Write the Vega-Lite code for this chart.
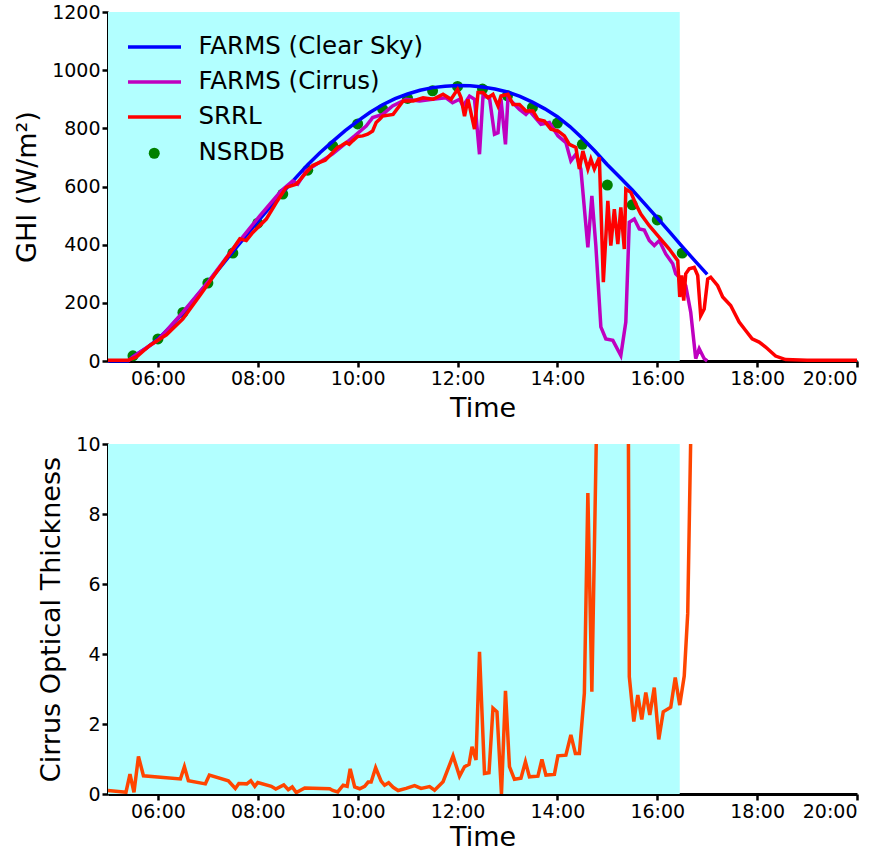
{
  "$schema": "https://vega.github.io/schema/vega-lite/v6.json",
  "padding": {"left": 13, "top": 3, "right": 5, "bottom": 0},
  "config": {
    "font": "DejaVu Sans",
    "view": {"stroke": null},
    "axis": {"grid": false, "domainColor": "black", "domainWidth": 3, "tickColor": "black", "tickWidth": 2.5, "tickSize": 6, "labelFontSize": 19, "titleFontSize": 27, "titleFontWeight": "normal", "labelColor": "black", "titleColor": "black", "labelPadding": 2, "labelFont": "DejaVu Sans", "titleFont": "DejaVu Sans"}
  },
  "datasets": {
    "bg": [{"a": 5, "b": 16.45}],
    "clear": [
      {"t":5.0,"v":0},{"t":5.4,"v":0},{"t":5.5,"v":15},{"t":5.75,"v":42},{"t":6.0,"v":75},{"t":6.25,"v":118},{"t":6.5,"v":165},{"t":6.75,"v":217},{"t":7.0,"v":270},{"t":7.25,"v":323},{"t":7.5,"v":376},{"t":7.75,"v":428},{"t":8.0,"v":480},{"t":8.25,"v":530},{"t":8.5,"v":580},{"t":8.75,"v":628},{"t":9.0,"v":675},{"t":9.25,"v":717},{"t":9.5,"v":755},{"t":9.75,"v":792},{"t":10.0,"v":825},{"t":10.25,"v":855},{"t":10.5,"v":881},{"t":10.75,"v":902},{"t":11.0,"v":918},{"t":11.25,"v":931},{"t":11.5,"v":940},{"t":11.75,"v":945},{"t":12.0,"v":947},{"t":12.25,"v":946},{"t":12.5,"v":942},{"t":12.75,"v":935},{"t":13.0,"v":925},{"t":13.25,"v":910},{"t":13.5,"v":890},{"t":13.75,"v":867},{"t":14.0,"v":840},{"t":14.25,"v":806},{"t":14.5,"v":766},{"t":14.75,"v":722},{"t":15.0,"v":675},{"t":15.25,"v":632},{"t":15.5,"v":588},{"t":15.75,"v":540},{"t":16.0,"v":492},{"t":16.25,"v":443},{"t":16.5,"v":393},{"t":16.75,"v":345},{"t":17.0,"v":298}
    ],
    "cirrus": [
      {"t":5.4,"v":0},{"t":5.5,"v":14},{"t":6.0,"v":72},{"t":6.5,"v":168},{"t":7.0,"v":271},{"t":7.5,"v":385},{"t":8.04,"v":499},{"t":8.47,"v":585},{"t":8.7,"v":619},{"t":8.8,"v":608},{"t":8.97,"v":654},{"t":9.5,"v":712},{"t":9.94,"v":774},{"t":10.17,"v":808},{"t":10.3,"v":837},{"t":10.5,"v":848},{"t":10.7,"v":877},{"t":10.97,"v":900},{"t":11.24,"v":894},{"t":11.5,"v":900},{"t":11.77,"v":905},{"t":11.9,"v":888},{"t":12.04,"v":900},{"t":12.11,"v":877},{"t":12.24,"v":911},{"t":12.34,"v":900},{"t":12.44,"v":711},{"t":12.51,"v":911},{"t":12.64,"v":905},{"t":12.74,"v":780},{"t":12.81,"v":785},{"t":12.87,"v":900},{"t":12.96,"v":745},{"t":13.01,"v":905},{"t":13.24,"v":865},{"t":13.37,"v":848},{"t":13.44,"v":860},{"t":13.67,"v":814},{"t":13.84,"v":820},{"t":14.01,"v":774},{"t":14.17,"v":751},{"t":14.27,"v":688},{"t":14.37,"v":711},{"t":14.47,"v":660},{"t":14.61,"v":391},{"t":14.69,"v":568},{"t":14.77,"v":397},{"t":14.87,"v":117},{"t":14.97,"v":76},{"t":15.11,"v":71},{"t":15.27,"v":19},{"t":15.37,"v":134},{"t":15.44,"v":477},{"t":15.54,"v":488},{"t":15.64,"v":454},{"t":15.74,"v":450},{"t":15.84,"v":414},{"t":15.94,"v":397},{"t":16.04,"v":414},{"t":16.17,"v":368},{"t":16.31,"v":334},{"t":16.37,"v":300},{"t":16.51,"v":276},{"t":16.57,"v":259},{"t":16.67,"v":168},{"t":16.77,"v":8},{"t":16.84,"v":42},{"t":16.94,"v":8},{"t":17.0,"v":0}
    ],
    "srrl": [
      {"t":5.0,"v":3},{"t":5.4,"v":3},{"t":5.57,"v":14},{"t":5.84,"v":54},{"t":6.17,"v":90},{"t":6.5,"v":145},{"t":6.84,"v":225},{"t":7.17,"v":305},{"t":7.5,"v":385},{"t":7.64,"v":420},{"t":7.77,"v":414},{"t":7.9,"v":442},{"t":8.17,"v":488},{"t":8.37,"v":545},{"t":8.57,"v":597},{"t":8.77,"v":608},{"t":8.97,"v":648},{"t":9.1,"v":672},{"t":9.24,"v":683},{"t":9.35,"v":690},{"t":9.5,"v":717},{"t":9.6,"v":735},{"t":9.67,"v":740},{"t":9.77,"v":751},{"t":9.83,"v":745},{"t":9.9,"v":757},{"t":10.0,"v":772},{"t":10.1,"v":774},{"t":10.2,"v":780},{"t":10.3,"v":791},{"t":10.37,"v":820},{"t":10.44,"v":831},{"t":10.5,"v":842},{"t":10.71,"v":848},{"t":10.91,"v":894},{"t":11.11,"v":894},{"t":11.31,"v":905},{"t":11.51,"v":900},{"t":11.71,"v":917},{"t":11.87,"v":900},{"t":12.0,"v":934},{"t":12.07,"v":905},{"t":12.14,"v":842},{"t":12.21,"v":900},{"t":12.34,"v":797},{"t":12.41,"v":923},{"t":12.51,"v":923},{"t":12.61,"v":905},{"t":12.71,"v":917},{"t":12.81,"v":877},{"t":12.87,"v":911},{"t":13.01,"v":917},{"t":13.11,"v":882},{"t":13.24,"v":882},{"t":13.37,"v":860},{"t":13.51,"v":860},{"t":13.61,"v":831},{"t":13.74,"v":825},{"t":13.87,"v":797},{"t":14.01,"v":791},{"t":14.14,"v":774},{"t":14.24,"v":745},{"t":14.37,"v":734},{"t":14.44,"v":660},{"t":14.51,"v":722},{"t":14.61,"v":660},{"t":14.67,"v":694},{"t":14.74,"v":660},{"t":14.84,"v":700},{"t":14.92,"v":271},{"t":15.01,"v":551},{"t":15.07,"v":397},{"t":15.14,"v":522},{"t":15.21,"v":402},{"t":15.27,"v":528},{"t":15.34,"v":385},{"t":15.37,"v":591},{"t":15.47,"v":580},{"t":15.57,"v":540},{"t":15.67,"v":505},{"t":15.84,"v":465},{"t":16.04,"v":425},{"t":16.24,"v":385},{"t":16.41,"v":345},{"t":16.45,"v":220},{"t":16.49,"v":294},{"t":16.53,"v":208},{"t":16.57,"v":300},{"t":16.64,"v":317},{"t":16.74,"v":322},{"t":16.81,"v":294},{"t":16.87,"v":156},{"t":16.94,"v":179},{"t":17.01,"v":282},{"t":17.07,"v":288},{"t":17.21,"v":259},{"t":17.31,"v":220},{"t":17.47,"v":191},{"t":17.64,"v":134},{"t":17.77,"v":105},{"t":17.9,"v":76},{"t":18.04,"v":65},{"t":18.17,"v":48},{"t":18.37,"v":17},{"t":18.57,"v":5},{"t":19.0,"v":3},{"t":20.0,"v":3}
    ],
    "nsrdb": [
      {"t":5.5,"v":18},{"t":6.0,"v":76},{"t":6.5,"v":167},{"t":7.0,"v":268},{"t":7.5,"v":371},{"t":8.0,"v":474},{"t":8.5,"v":574},{"t":9.0,"v":656},{"t":9.5,"v":740},{"t":10.0,"v":815},{"t":10.5,"v":866},{"t":11.0,"v":903},{"t":11.5,"v":929},{"t":12.0,"v":944},{"t":12.5,"v":935},{"t":13.0,"v":912},{"t":13.5,"v":872},{"t":14.0,"v":818},{"t":14.5,"v":745},{"t":15.0,"v":605},{"t":15.5,"v":537},{"t":16.0,"v":485},{"t":16.5,"v":371}
    ],
    "cot": [
      {"t":5.0,"v":0.1},{"t":5.36,"v":0.05},{"t":5.44,"v":0.57},{"t":5.52,"v":0.05},{"t":5.61,"v":1.07},{"t":5.71,"v":0.52},{"t":6.45,"v":0.43},{"t":6.53,"v":0.78},{"t":6.61,"v":0.38},{"t":6.95,"v":0.29},{"t":7.03,"v":0.54},{"t":7.41,"v":0.38},{"t":7.55,"v":0.16},{"t":7.62,"v":0.3},{"t":7.78,"v":0.29},{"t":7.86,"v":0.38},{"t":7.94,"v":0.22},{"t":8.0,"v":0.33},{"t":8.27,"v":0.22},{"t":8.36,"v":0.14},{"t":8.52,"v":0.26},{"t":8.61,"v":0.12},{"t":8.69,"v":0.2},{"t":8.77,"v":0.04},{"t":8.94,"v":0.17},{"t":9.44,"v":0.15},{"t":9.5,"v":0.1},{"t":9.6,"v":0.06},{"t":9.71,"v":0.25},{"t":9.79,"v":0.22},{"t":9.85,"v":0.72},{"t":9.94,"v":0.2},{"t":10.04,"v":0.15},{"t":10.14,"v":0.22},{"t":10.21,"v":0.34},{"t":10.27,"v":0.34},{"t":10.36,"v":0.75},{"t":10.47,"v":0.37},{"t":10.54,"v":0.25},{"t":10.62,"v":0.32},{"t":10.71,"v":0.19},{"t":10.81,"v":0.1},{"t":10.97,"v":0.16},{"t":11.14,"v":0.24},{"t":11.27,"v":0.16},{"t":11.44,"v":0.21},{"t":11.54,"v":0.11},{"t":11.71,"v":0.35},{"t":11.91,"v":1.09},{"t":12.04,"v":0.51},{"t":12.14,"v":0.78},{"t":12.23,"v":0.85},{"t":12.29,"v":1.35},{"t":12.37,"v":0.97},{"t":12.44,"v":4.06},{"t":12.54,"v":0.59},{"t":12.63,"v":0.61},{"t":12.71,"v":2.45},{"t":12.79,"v":2.35},{"t":12.88,"v":0.0},{"t":12.96,"v":2.95},{"t":13.04,"v":0.78},{"t":13.14,"v":0.42},{"t":13.27,"v":0.45},{"t":13.36,"v":0.92},{"t":13.44,"v":0.49},{"t":13.61,"v":0.51},{"t":13.69,"v":0.99},{"t":13.77,"v":0.54},{"t":13.94,"v":0.56},{"t":14.01,"v":1.09},{"t":14.17,"v":1.11},{"t":14.27,"v":1.69},{"t":14.36,"v":1.16},{"t":14.44,"v":1.16},{"t":14.54,"v":2.88},{"t":14.61,"v":8.6},{"t":14.69,"v":2.92},{"t":14.79,"v":11},{"t":15.0,"v":20},{"t":15.2,"v":20},{"t":15.42,"v":11},{"t":15.44,"v":3.35},{"t":15.53,"v":2.07},{"t":15.61,"v":2.83},{"t":15.69,"v":2.13},{"t":15.77,"v":2.9},{"t":15.85,"v":2.26},{"t":15.94,"v":3.04},{"t":16.03,"v":1.56},{"t":16.12,"v":2.35},{"t":16.27,"v":2.48},{"t":16.36,"v":3.33},{"t":16.45,"v":2.54},{"t":16.54,"v":3.37},{"t":16.61,"v":5.16},{"t":16.68,"v":11},{"t":16.8,"v":30}
    ]
  },
  "spacing": 14,
  "resolve": {"legend": {"color": "independent", "fill": "independent"}, "scale": {"color": "independent", "fill": "independent"}},
  "vconcat": [
    {
      "width": 749,
      "height": 349,
      "encoding": {
        "x": {"field": "t", "type": "quantitative", "scale": {"domain": [5, 20], "nice": false, "zero": false}, "axis": {"values": [6, 8, 10, 12, 14, 16, 18, 20], "labelExpr": "(datum.value < 10 ? '0' : '') + datum.value + ':00'", "title": "Time", "titlePadding": 7}},
        "y": {"field": "v", "type": "quantitative", "scale": {"domain": [0, 1200], "nice": false}, "axis": {"values": [0, 200, 400, 600, 800, 1000, 1200], "format": "d", "title": "GHI (W/m²)", "titlePadding": 10}}
      },
      "layer": [
        {"data": {"name": "bg"}, "mark": {"type": "rect", "color": "#b2ffff"}, "encoding": {"x": {"field": "a", "type": "quantitative"}, "x2": {"field": "b"}, "y": null}},
        {"data": {"name": "nsrdb"}, "mark": {"type": "circle", "size": 121, "opacity": 1}, "encoding": {"fill": {"datum": "NSRDB", "type": "nominal",
          "scale": {"domain": ["NSRDB"], "range": ["#008000"]},
          "legend": {"orient": "none", "legendX": 17, "legendY": 129, "title": null, "padding": 0, "labelFontSize": 24.5, "labelColor": "black", "labelFont": "DejaVu Sans", "labelLimit": 0, "symbolType": "circle", "symbolSize": 121, "symbolOpacity": 1, "symbolStrokeWidth": 0, "symbolOffset": 17, "labelOffset": 32, "zindex": 1}}}},
        {"data": {"name": "clear"}, "mark": {"type": "line", "strokeWidth": 3.5}, "encoding": {"color": {"datum": "FARMS (Clear Sky)", "type": "nominal",
          "scale": {"domain": ["FARMS (Clear Sky)", "FARMS (Cirrus)", "SRRL"], "range": ["#0000ff", "#bf00bf", "#ff0000"]},
          "legend": {"orient": "none", "legendX": 18, "legendY": 18, "title": null, "padding": 0, "labelFontSize": 24.5, "labelColor": "black", "labelFont": "DejaVu Sans", "labelLimit": 0, "symbolType": "M-1.7667,0H1.7667", "symbolSize": 900, "symbolStrokeWidth": 3.5, "symbolOffset": 11.5, "labelOffset": 27, "rowPadding": 6, "zindex": 1}}}},
        {"data": {"name": "cirrus"}, "mark": {"type": "line", "strokeWidth": 3.5}, "encoding": {"color": {"datum": "FARMS (Cirrus)", "type": "nominal"}}},
        {"data": {"name": "srrl"}, "mark": {"type": "line", "strokeWidth": 3.5}, "encoding": {"color": {"datum": "SRRL", "type": "nominal"}}}
      ]
    },
    {
      "width": 749,
      "height": 350,
      "encoding": {
        "x": {"field": "t", "type": "quantitative", "scale": {"domain": [5, 20], "nice": false, "zero": false}, "axis": {"values": [6, 8, 10, 12, 14, 16, 18, 20], "labelExpr": "(datum.value < 10 ? '0' : '') + datum.value + ':00'", "title": "Time", "titlePadding": 3}},
        "y": {"field": "v", "type": "quantitative", "scale": {"domain": [0, 10], "nice": false}, "axis": {"values": [0, 2, 4, 6, 8, 10], "title": "Cirrus Optical Thickness", "titlePadding": 10}}
      },
      "layer": [
        {"data": {"name": "bg"}, "mark": {"type": "rect", "color": "#b2ffff"}, "encoding": {"x": {"field": "a", "type": "quantitative"}, "x2": {"field": "b"}, "y": null}},
        {"data": {"name": "cot"}, "mark": {"type": "line", "strokeWidth": 3.5, "color": "#ff4500", "clip": true}}
      ]
    }
  ]
}
